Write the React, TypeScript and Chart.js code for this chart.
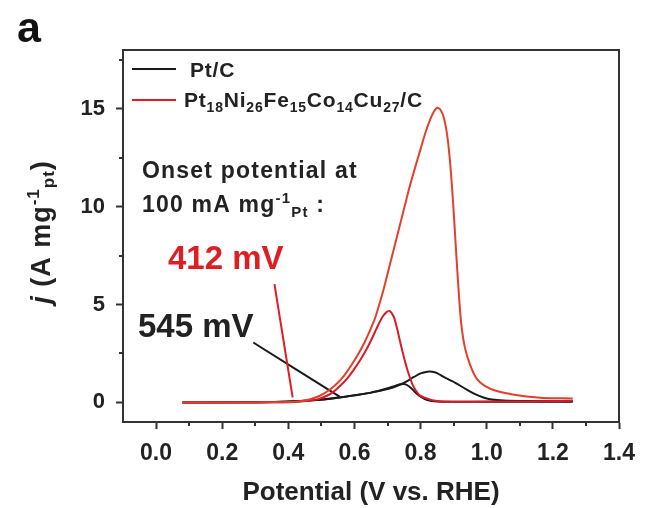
import React, { useEffect, useRef } from 'react';
import { Chart, registerables } from 'chart.js';

Chart.register(...registerables);

// Pt18Ni26Fe15Co14Cu27/C – forward scan
const heaFwdV = [0.08, 0.2, 0.3, 0.38, 0.42, 0.45, 0.48, 0.51, 0.54, 0.57, 0.6, 0.63, 0.66, 0.675, 0.69, 0.705, 0.72, 0.735, 0.75, 0.765, 0.78, 0.8, 0.815, 0.83, 0.84, 0.85, 0.86, 0.87, 0.88, 0.89, 0.899, 0.907, 0.915, 0.923, 0.934, 0.95, 0.97, 0.994, 1.03, 1.074, 1.12, 1.17, 1.26];
const heaFwdJ = [0.0, 0.0, 0.0, 0.01, 0.03, 0.1, 0.24, 0.48, 0.85, 1.4, 2.15, 3.05, 4.2, 5.0, 5.9, 6.9, 7.9, 8.9, 9.9, 10.9, 11.8, 12.95, 13.8, 14.5, 14.85, 15.05, 14.95, 14.55, 13.7, 12.1, 10.0, 7.8, 5.7, 4.0, 2.8, 1.9, 1.2, 0.85, 0.58, 0.42, 0.3, 0.23, 0.2];
// Pt18Ni26Fe15Co14Cu27/C – backward scan
const heaBwdV = [1.26, 1.1, 0.95, 0.87, 0.84, 0.825, 0.81, 0.796, 0.786, 0.776, 0.766, 0.756, 0.746, 0.736, 0.727, 0.718, 0.706, 0.696, 0.686, 0.676, 0.666, 0.651, 0.636, 0.617, 0.597, 0.577, 0.557, 0.537, 0.517, 0.49, 0.46, 0.43, 0.4, 0.3, 0.08];
const heaBwdJ = [0.08, 0.05, 0.04, 0.05, 0.1, 0.17, 0.25, 0.38, 0.6, 0.9, 1.35, 1.9, 2.55, 3.25, 3.9, 4.4, 4.67, 4.6, 4.4, 4.1, 3.74, 3.2, 2.7, 2.15, 1.65, 1.2, 0.85, 0.55, 0.34, 0.17, 0.08, 0.03, 0.01, 0.0, 0.0];
// Pt/C – forward scan
const ptcFwdV = [0.08, 0.2, 0.3, 0.38, 0.45, 0.5, 0.55, 0.6, 0.65, 0.7, 0.73, 0.755, 0.78, 0.8, 0.82, 0.835, 0.85, 0.87, 0.89, 0.905, 0.925, 0.945, 0.965, 0.99, 1.015, 1.05, 1.12, 1.26];
const ptcFwdJ = [0.0, 0.0, 0.01, 0.03, 0.09, 0.15, 0.25, 0.37, 0.5, 0.68, 0.85, 1.05, 1.3, 1.48, 1.57, 1.57, 1.5, 1.3, 1.13, 1.0, 0.8, 0.6, 0.42, 0.25, 0.15, 0.1, 0.07, 0.06];
// Pt/C – backward scan
const ptcBwdV = [1.26, 1.1, 0.95, 0.85, 0.82, 0.8, 0.785, 0.77, 0.755, 0.74, 0.725, 0.7, 0.65, 0.6, 0.55, 0.5, 0.45, 0.38, 0.3, 0.08];
const ptcBwdJ = [0.04, 0.03, 0.03, 0.05, 0.12, 0.3, 0.5, 0.75, 0.92, 0.93, 0.86, 0.72, 0.5, 0.36, 0.24, 0.14, 0.08, 0.03, 0.01, 0.0];
// onset-potential pointer lines
const redPointerV = [0.358, 0.413];
const redPointerJ = [6.04, 0.26];
const blackPointerV = [0.294, 0.555];
const blackPointerJ = [3.06, 0.3];

const xMajorTicks = [0, 0.2, 0.4, 0.6, 0.8, 1.0, 1.2, 1.4];
const xMinorTicks = [0.1, 0.3, 0.5, 0.7, 0.9, 1.1, 1.3];
const yMajorTicks = [0, 5, 10, 15];
const yMinorTicks = [2.5, 7.5, 12.5, 17.5];

const FONT = '"Liberation Sans", Arial, Helvetica, sans-serif';
const DARK = '#222222';
const RED = '#e11d24';

type Seg = { t: string; size: number; dy?: number; italic?: boolean; color?: string };

function pts(v: number[], j: number[]) {
  return v.map((x, i) => ({ x, y: j[i] }));
}

function setFont(ctx: CanvasRenderingContext2D, s: Seg, spacing: number) {
  ctx.font = `${s.italic ? 'italic ' : ''}bold ${s.size}px ${FONT}`;
  (ctx as any).letterSpacing = `${spacing}px`;
}

function measureRich(ctx: CanvasRenderingContext2D, segs: Seg[], spacing: number) {
  let w = 0;
  for (const s of segs) {
    setFont(ctx, s, spacing);
    w += ctx.measureText(s.t).width;
  }
  return w;
}

function drawRich(ctx: CanvasRenderingContext2D, x: number, y: number, segs: Seg[], spacing: number, color: string) {
  let cx = x;
  ctx.textAlign = 'left';
  ctx.textBaseline = 'alphabetic';
  for (const s of segs) {
    setFont(ctx, s, spacing);
    ctx.fillStyle = s.color || color;
    ctx.fillText(s.t, cx, y + (s.dy || 0));
    cx += ctx.measureText(s.t).width;
  }
  (ctx as any).letterSpacing = '0px';
}

const decorPlugin = {
  id: 'decor',
  afterDraw(chart: any) {
    const ctx: CanvasRenderingContext2D = chart.ctx;
    const { left, right, top, bottom } = chart.chartArea;
    const xs = chart.scales.x;
    const ys = chart.scales.y;
    ctx.save();
    // frame
    ctx.strokeStyle = '#333';
    ctx.lineWidth = 2;
    ctx.strokeRect(left, top, right - left, bottom - top);
    // minor ticks
    for (const v of xMinorTicks) {
      const px = Math.round(xs.getPixelForValue(v));
      ctx.beginPath();
      ctx.moveTo(px, bottom);
      ctx.lineTo(px, bottom + 4);
      ctx.stroke();
    }
    for (const v of yMinorTicks) {
      const py = Math.round(ys.getPixelForValue(v));
      ctx.beginPath();
      ctx.moveTo(left - 4, py);
      ctx.lineTo(left, py);
      ctx.stroke();
    }
    // legend
    ctx.lineWidth = 2;
    ctx.strokeStyle = '#1a1a1a';
    ctx.beginPath();
    ctx.moveTo(132, 69);
    ctx.lineTo(176, 69);
    ctx.stroke();
    ctx.strokeStyle = RED;
    ctx.beginPath();
    ctx.moveTo(132, 100);
    ctx.lineTo(176, 100);
    ctx.stroke();
    drawRich(ctx, 190, 76.5, [{ t: 'Pt/C', size: 21 }], 0.8, DARK);
    drawRich(ctx, 184, 106.5, [
      { t: 'Pt', size: 21 }, { t: '18', size: 14, dy: 5 },
      { t: 'Ni', size: 21 }, { t: '26', size: 14, dy: 5 },
      { t: 'Fe', size: 21 }, { t: '15', size: 14, dy: 5 },
      { t: 'Co', size: 21 }, { t: '14', size: 14, dy: 5 },
      { t: 'Cu', size: 21 }, { t: '27', size: 14, dy: 5 },
      { t: '/C', size: 21 },
    ], 0.8, DARK);
    // annotations
    drawRich(ctx, 142, 178, [{ t: 'Onset potential at', size: 23 }], 1.2, DARK);
    drawRich(ctx, 142, 211.5, [
      { t: '100 mA mg', size: 23 },
      { t: '-1', size: 15, dy: -9 },
      { t: 'Pt', size: 15, dy: 5 },
      { t: ' :', size: 23 },
    ], 1.2, DARK);
    drawRich(ctx, 168, 269, [{ t: '412 mV', size: 33 }], 0, RED);
    drawRich(ctx, 138, 337, [{ t: '545 mV', size: 33 }], 0, DARK);
    // panel label
    drawRich(ctx, 17, 42, [{ t: 'a', size: 43 }], 0, '#111');
    // y-axis title (rotated)
    const ySegs: Seg[] = [
      { t: 'j', size: 27, italic: true },
      { t: ' (A mg', size: 27 },
      { t: '-1', size: 17, dy: -11 },
      { t: 'pt', size: 17, dy: 4 },
      { t: ')', size: 27 },
    ];
    const w = measureRich(ctx, ySegs, 1);
    ctx.translate(50, 232);
    ctx.rotate(-Math.PI / 2);
    drawRich(ctx, -w / 2, 0, ySegs, 1, DARK);
    ctx.restore();
  },
};

export default function App() {
  const ref = useRef<HTMLCanvasElement | null>(null);
  useEffect(() => {
    if (!ref.current) return;
    const line = (data: any[], color: string, width: number, order: number) => ({
      data,
      borderColor: color,
      borderWidth: width,
      pointRadius: 0,
      tension: 0.3,
      fill: false,
      order,
    });
    const chart = new Chart(ref.current, {
      type: 'line',
      data: {
        datasets: [
          line(pts(heaFwdV, heaFwdJ), '#e2402c', 2, 0),
          line(pts(heaBwdV, heaBwdJ), '#d61c2a', 2, 1),
          line(pts(redPointerV, redPointerJ), RED, 2, 2),
          line(pts(ptcFwdV, ptcFwdJ), '#1a1a1a', 2, 3),
          line(pts(ptcBwdV, ptcBwdJ), '#1a1a1a', 2, 4),
          line(pts(blackPointerV, blackPointerJ), '#1a1a1a', 2, 5),
        ] as any,
      },
      options: {
        responsive: false,
        animation: false,
        devicePixelRatio: 1,
        layout: { padding: { top: 50, right: 20, left: 0, bottom: 0 } },
        plugins: { legend: { display: false }, tooltip: { enabled: false } },
        scales: {
          x: {
            type: 'linear',
            min: -0.1,
            max: 1.4,
            afterBuildTicks: (s: any) => { s.ticks = xMajorTicks.map((value) => ({ value })); },
            afterFit: (s: any) => { s.height = 86; },
            ticks: {
              callback: (v: any) => Number(v).toFixed(1),
              font: { family: FONT, size: 23, weight: 'bold' },
              color: DARK,
              padding: 11,
              maxRotation: 0,
              autoSkip: false,
            },
            grid: { drawOnChartArea: false, drawTicks: true, tickLength: 7, tickWidth: 2, tickColor: '#333', color: '#333' },
            border: { display: true, color: '#333', width: 2 },
            title: {
              display: true,
              text: 'Potential (V vs. RHE)',
              font: { family: FONT, size: 26, weight: 'bold' },
              color: DARK,
              padding: { top: 0, bottom: 0 },
            },
          },
          y: {
            type: 'linear',
            min: -1,
            max: 18,
            afterBuildTicks: (s: any) => { s.ticks = yMajorTicks.map((value) => ({ value })); },
            afterFit: (s: any) => { s.width = 123; },
            ticks: {
              callback: (v: any) => String(v),
              font: { family: FONT, size: 22, weight: 'bold' },
              color: DARK,
              padding: 11,
              autoSkip: false,
            },
            grid: { drawOnChartArea: false, drawTicks: true, tickLength: 7, tickWidth: 2, tickColor: '#333', color: '#333' },
            border: { display: true, color: '#333', width: 2 },
          },
        },
      } as any,
      plugins: [decorPlugin],
    });
    return () => chart.destroy();
  }, []);
  return (
    <div style={{ position: 'absolute', left: 0, top: 0, width: 646, height: 508, background: '#fff' }}>
      <canvas ref={ref} width={646} height={508} style={{ display: 'block' }} />
    </div>
  );
}
